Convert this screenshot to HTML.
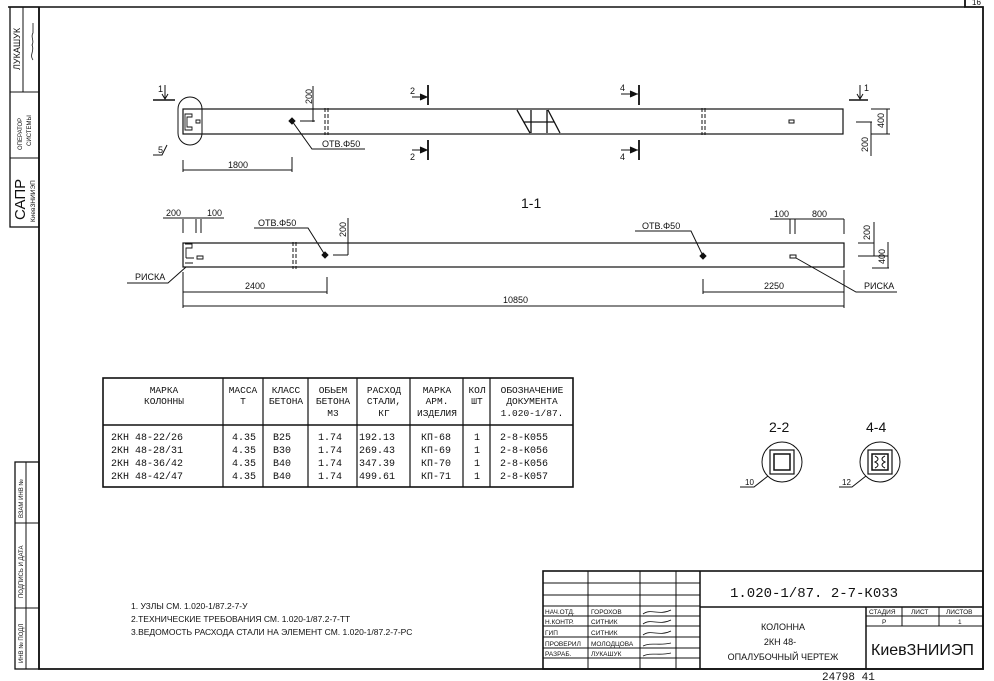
<!DOCTYPE html>
<html><head><meta charset="utf-8"><style>
html,body{margin:0;padding:0;background:#fff;}
svg{display:block;}
text{font-family:"Liberation Sans","DejaVu Sans",sans-serif;fill:#111;}
.m, .m text{font-family:"Liberation Mono","DejaVu Sans Mono",monospace;}
</style></head><body>
<svg width="994" height="681" viewBox="0 0 994 681" xmlns="http://www.w3.org/2000/svg" stroke="#111" fill="none" stroke-width="1">
<!-- frame -->
<line x1="8" y1="7" x2="965" y2="7" stroke-width="1.6"/>
<polyline points="965,0 965,7 983,7 983,669 39,669 39,7" stroke-width="1.8"/>
<text x="972" y="5" font-size="8" stroke="none">16</text>
<!-- left stamps top -->
<rect x="10" y="7" width="29" height="220" stroke-width="1.3"/>
<line x1="10" y1="92" x2="39" y2="92"/><line x1="10" y1="158" x2="39" y2="158"/>
<line x1="23" y1="7" x2="23" y2="92"/>
<text transform="translate(20,70) rotate(-90)" font-size="9" stroke="none">ЛУКАШУК</text>
<path d="M33,60 c-4,-5 2,-10 -1,-15 c3,-4 -2,-8 1,-12 l0,-10" stroke-width="0.8"/>
<text transform="translate(22,150) rotate(-90)" font-size="6" stroke="none">ОПЕРАТОР</text>
<text transform="translate(31,146) rotate(-90)" font-size="6" stroke="none">СИСТЕМЫ</text>
<text transform="translate(25,220) rotate(-90)" font-size="15" stroke="none">САПР</text>
<text transform="translate(35,222) rotate(-90)" font-size="6.5" stroke="none">КиевЗНИИЭП</text>
<!-- left stamps bottom -->
<rect x="15" y="462" width="24" height="207" stroke-width="1.3"/>
<line x1="15" y1="523" x2="39" y2="523"/><line x1="15" y1="608" x2="39" y2="608"/>
<line x1="26" y1="462" x2="26" y2="669"/>
<text transform="translate(23,518) rotate(-90)" font-size="6" stroke="none">ВЗАМ ИНВ №</text>
<text transform="translate(23,598) rotate(-90)" font-size="6" stroke="none">ПОДПИСЬ И ДАТА</text>
<text transform="translate(23,663) rotate(-90)" font-size="6" stroke="none">ИНВ № ПОДЛ</text>

<!-- TOP BEAM -->
<rect x="183" y="109" width="660" height="25" stroke-width="1.2"/>
<rect x="178" y="97" width="24" height="48" rx="12" ry="12"/>
<path d="M185,114 h7 v3 h-5 v10 h5 v3 h-7 z M196,120 h4 v3 h-4z" stroke-width="0.9"/>
<path d="M167,145 l-5,10 h-9" /><text x="158" y="153" font-size="9" stroke="none">5</text>
<line x1="153" y1="100" x2="175" y2="100" stroke-width="1.5"/>
<path d="M165,85 v13 M162,94 l3,5 l3,-5"/><text x="158" y="92" font-size="9" stroke="none">1</text>
<line x1="849" y1="100" x2="868" y2="100" stroke-width="1.5"/>
<path d="M860,85 v13 M857,94 l3,5 l3,-5"/><text x="864" y="91" font-size="9" stroke="none">1</text>
<path d="M289,121 l3,-3 l3,3 l-3,3z" fill="#111"/>
<path d="M292,121 l20,28 h53"/><text x="322" y="147" font-size="9" stroke="none">ОТВ.Φ50</text>
<path d="M300,121 h15 M313,86 v36"/>
<text transform="translate(312,104) rotate(-90)" font-size="9" stroke="none">200</text>
<path d="M325,108 v27 M328,108 v27" stroke-dasharray="4,2"/>
<path d="M428,85 v20 M428,140 v20" stroke-width="1.8"/>
<path d="M412,97 h15 M420,94 l7,3 l-7,3 M412,150 h15 M420,147 l7,3 l-7,3" fill="#111"/>
<text x="410" y="94" font-size="9" stroke="none">2</text><text x="410" y="160" font-size="9" stroke="none">2</text>
<path d="M517,110 L530,133 M548,110 L560,133 M531,110 V133 M547,110 V133 M524,122 H554" stroke-width="1.3"/>
<path d="M639,85 v20 M639,140 v20" stroke-width="1.8"/>
<path d="M621,94 h17 M630,91 l7,3 l-7,3 M621,150 h17 M630,147 l7,3 l-7,3" fill="#111"/>
<text x="620" y="91" font-size="9" stroke="none">4</text><text x="620" y="160" font-size="9" stroke="none">4</text>
<path d="M702,108 v27 M705,108 v27" stroke-dasharray="4,2"/>
<rect x="789" y="120" width="5" height="3"/>
<path d="M871,109 h19 M871,134 h19 M887,109 v25 M856,122 h16 M871,122 v34"/>
<text transform="translate(884,128) rotate(-90)" font-size="9" stroke="none">400</text>
<text transform="translate(868,152) rotate(-90)" font-size="9" stroke="none">200</text>
<path d="M183,160 v12 M292,157 v15 M183,170 h109"/>
<text x="228" y="168" font-size="9" stroke="none">1800</text>

<text x="521" y="208" font-size="14" stroke="none">1-1</text>

<!-- BOTTOM BEAM -->
<rect x="183" y="243" width="661" height="24" stroke-width="1.2"/>
<path d="M185,244 h7 v4 h-6 v10 M186,258 h8 M197,256 h6 v3 h-6z M185,263 h8" stroke-width="0.9"/>
<path d="M163,218 h61 M183,219 v14 M196,219 v14 M201,219 v14"/>
<text x="166" y="216" font-size="9" stroke="none">200</text><text x="207" y="216" font-size="9" stroke="none">100</text>
<path d="M293,242 v27 M296,242 v27" stroke-dasharray="4,2"/>
<path d="M322,255 l3,-3 l3,3 l-3,3z" fill="#111"/>
<path d="M325,255 l-17,-27 h-54"/><text x="258" y="226" font-size="9" stroke="none">ОТВ.Φ50</text>
<path d="M333,255 h15 M348,218 v37"/>
<text transform="translate(346,237) rotate(-90)" font-size="9" stroke="none">200</text>
<path d="M700,256 l3,-3 l3,3 l-3,3z" fill="#111"/>
<path d="M703,256 l-12,-25 h-56"/><text x="642" y="229" font-size="9" stroke="none">ОТВ.Φ50</text>
<rect x="790" y="255" width="6" height="3"/>
<path d="M770,219 h74 M790,219 v15 M795,219 v15 M844,219 v15"/>
<text x="774" y="217" font-size="9" stroke="none">100</text><text x="812" y="217" font-size="9" stroke="none">800</text>
<path d="M858,243 h16 M858,256 h30 M874,222 v34 M888,242 v26 M872,268 h17"/>
<text transform="translate(870,240) rotate(-90)" font-size="9" stroke="none">200</text>
<text transform="translate(885,264) rotate(-90)" font-size="9" stroke="none">400</text>
<path d="M186,267 l-18,16 h-41"/><text x="135" y="280" font-size="9" stroke="none">РИСКА</text>
<path d="M796,258 l60,34 h41"/><text x="864" y="289" font-size="9" stroke="none">РИСКА</text>
<path d="M183,272 v36 M327,277 v17 M183,292 h144"/>
<text x="245" y="289" font-size="9" stroke="none">2400</text>
<path d="M703,279 v15 M844,270 v38 M703,292 h141"/>
<text x="764" y="289" font-size="9" stroke="none">2250</text>
<path d="M183,306 h661"/><text x="503" y="303" font-size="9" stroke="none">10850</text>

<!-- TABLE -->
<rect x="103" y="378" width="470" height="109" stroke-width="1.6"/>
<line x1="103" y1="425" x2="573" y2="425" stroke-width="1.4"/>
<g stroke-width="1.2">
<line x1="223" y1="378" x2="223" y2="487"/><line x1="263" y1="378" x2="263" y2="487"/>
<line x1="308" y1="378" x2="308" y2="487"/><line x1="357" y1="378" x2="357" y2="487"/>
<line x1="410" y1="378" x2="410" y2="487"/><line x1="463" y1="378" x2="463" y2="487"/>
<line x1="490" y1="378" x2="490" y2="487"/></g>
<g class="m" font-size="9.5" stroke="none" fill="#111" text-anchor="middle">
<text x="164" y="393">МАРКА</text><text x="164" y="404">КОЛОННЫ</text>
<text x="243" y="393">МАССА</text><text x="243" y="404">Т</text>
<text x="286" y="393">КЛАСС</text><text x="286" y="404">БЕТОНА</text>
<text x="333" y="393">ОБЬЕМ</text><text x="333" y="404">БЕТОНА</text><text x="333" y="416">М3</text>
<text x="384" y="393">РАСХОД</text><text x="384" y="404">СТАЛИ,</text><text x="384" y="416">КГ</text>
<text x="437" y="393">МАРКА</text><text x="437" y="404">АРМ.</text><text x="437" y="416">ИЗДЕЛИЯ</text>
<text x="477" y="393">КОЛ</text><text x="477" y="404">ШТ</text>
<text x="532" y="393">ОБОЗНАЧЕНИЕ</text><text x="532" y="404">ДОКУМЕНТА</text><text x="532" y="416">1.020-1/87.</text>
</g>
<g class="m" font-size="10" stroke="none" fill="#111">
<text x="111" y="440">2КН  48-22/26</text><text x="111" y="453">2КН  48-28/31</text>
<text x="111" y="466">2КН  48-36/42</text><text x="111" y="479">2КН  48-42/47</text>
<text x="232" y="440">4.35</text><text x="232" y="453">4.35</text><text x="232" y="466">4.35</text><text x="232" y="479">4.35</text>
<text x="273" y="440">В25</text><text x="273" y="453">В30</text><text x="273" y="466">В40</text><text x="273" y="479">В40</text>
<text x="318" y="440">1.74</text><text x="318" y="453">1.74</text><text x="318" y="466">1.74</text><text x="318" y="479">1.74</text>
<text x="359" y="440">192.13</text><text x="359" y="453">269.43</text><text x="359" y="466">347.39</text><text x="359" y="479">499.61</text>
<text x="421" y="440">КП-68</text><text x="421" y="453">КП-69</text><text x="421" y="466">КП-70</text><text x="421" y="479">КП-71</text>
<text x="474" y="440">1</text><text x="474" y="453">1</text><text x="474" y="466">1</text><text x="474" y="479">1</text>
<text x="500" y="440">2-8-К055</text><text x="500" y="453">2-8-К056</text><text x="500" y="466">2-8-К056</text><text x="500" y="479">2-8-К057</text>
</g>

<!-- sections -->
<text x="769" y="432" font-size="14" stroke="none">2-2</text>
<circle cx="782" cy="462" r="20"/><rect x="770" y="450" width="24" height="24" stroke-width="1.2"/><rect x="774" y="454" width="16" height="16" stroke-width="1.5"/>
<path d="M768,476 l-14,11 h-14"/><text x="745" y="485" font-size="8" stroke="none">10</text>
<text x="866" y="432" font-size="14" stroke="none">4-4</text>
<circle cx="880" cy="462" r="20"/><rect x="868" y="450" width="24" height="24" stroke-width="1.2"/><rect x="872" y="454" width="16" height="16" stroke-width="1.5"/>
<path d="M875,456 c4,2 4,4 0,6 c4,2 4,4 0,6 M885,456 c-4,2 -4,4 0,6 c-4,2 -4,4 0,6" stroke-width="1"/>
<path d="M866,476 l-14,11 h-13"/><text x="842" y="485" font-size="8" stroke="none">12</text>

<!-- notes -->
<g font-size="8.5" stroke="none">
<text x="131" y="609">1. УЗЛЫ СМ. 1.020-1/87.2-7-У</text>
<text x="131" y="622">2.ТЕХНИЧЕСКИЕ ТРЕБОВАНИЯ СМ. 1.020-1/87.2-7-ТТ</text>
<text x="131" y="635">3.ВЕДОМОСТЬ РАСХОДА СТАЛИ НА ЭЛЕМЕНТ СМ. 1.020-1/87.2-7-РС</text>
</g>

<!-- TITLE BLOCK -->
<rect x="543" y="571" width="440" height="98" stroke-width="1.6"/>
<g stroke-width="1">
<line x1="588" y1="571" x2="588" y2="669"/><line x1="640" y1="571" x2="640" y2="669"/>
<line x1="676" y1="571" x2="676" y2="669"/>
<line x1="543" y1="583" x2="700" y2="583"/><line x1="543" y1="595" x2="700" y2="595"/>
<line x1="543" y1="606" x2="700" y2="606"/><line x1="543" y1="616" x2="700" y2="616"/>
<line x1="543" y1="626" x2="700" y2="626"/><line x1="543" y1="637" x2="700" y2="637"/>
<line x1="543" y1="648" x2="700" y2="648"/><line x1="543" y1="658" x2="700" y2="658"/>
<line x1="866" y1="616" x2="983" y2="616"/><line x1="866" y1="626" x2="983" y2="626"/>
<line x1="902" y1="607" x2="902" y2="626"/><line x1="939" y1="607" x2="939" y2="626"/>
</g>
<line x1="700" y1="571" x2="700" y2="669" stroke-width="1.5"/>
<line x1="700" y1="607" x2="983" y2="607" stroke-width="1.5"/>
<line x1="866" y1="607" x2="866" y2="669" stroke-width="1.5"/>
<g font-size="6.5" stroke="none">
<text x="545" y="614">НАЧ.ОТД.</text><text x="591" y="614">ГОРОХОВ</text>
<text x="545" y="624">Н.КОНТР.</text><text x="591" y="624">СИТНИК</text>
<text x="545" y="635">ГИП</text><text x="591" y="635">СИТНИК</text>
<text x="545" y="646">ПРОВЕРИЛ</text><text x="591" y="646">МОЛОДЦОВА</text>
<text x="545" y="656">РАЗРАБ.</text><text x="591" y="656">ЛУКАШУК</text>
<text x="869" y="614">СТАДИЯ</text><text x="911" y="614">ЛИСТ</text><text x="946" y="614">ЛИСТОВ</text>
<text x="882" y="624">Р</text><text x="958" y="624">1</text>
</g>
<g stroke-width="0.8"><path d="M643,614 c8,-6 16,2 28,-4 M643,624 c8,-6 16,2 28,-4 M643,635 c8,-6 16,2 28,-4 M643,646 c8,-4 16,0 28,-3 M643,656 c8,-4 16,0 28,-3"/></g>
<text x="730" y="597" font-size="14" stroke="none" class="m">1.020-1/87. 2-7-К033</text>
<g font-size="9" stroke="none" text-anchor="middle">
<text x="783" y="630">КОЛОННА</text><text x="780" y="645">2КН 48-</text><text x="783" y="660">ОПАЛУБОЧНЫЙ ЧЕРТЕЖ</text>
</g>
<text x="871" y="655" font-size="16" stroke="none">КиевЗНИИЭП</text>
<text x="822" y="680" font-size="11" stroke="none" class="m">24798  41</text>
</svg>
</body></html>
